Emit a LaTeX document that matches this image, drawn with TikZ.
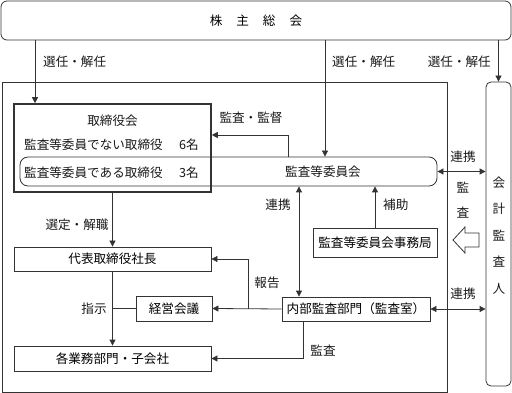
\documentclass[tikz,border=0pt]{standalone}
\usepackage{fontspec}
\setmainfont{Noto Sans CJK JP}
\usetikzlibrary{arrows.meta}
\begin{document}
\begin{tikzpicture}[x=1pt,y=-1pt,
  font=\fontsize{12.6}{14}\selectfont,
  ln/.style={draw=black!80, line width=0.8pt},
  arr/.style={ln, -{Triangle[length=6pt,width=6pt]}},
  darr/.style={ln, {Triangle[length=6pt,width=6pt]}-{Triangle[length=6pt,width=6pt]}},
  box/.style={draw=black!80, line width=0.8pt, inner sep=0pt},
  lbl/.style={inner sep=0pt, text=black!90},
]
\useasboundingbox (0,0) rectangle (512,393);
% outer company frame
\draw[ln] (2,82) rectangle (447,392);
% shareholders meeting
\node[box, rounded corners=6pt, minimum width=510pt, minimum height=39pt] (gms) at (256,20.5) {株\hspace{14pt}主\hspace{14pt}総\hspace{14pt}会};
% accounting auditor
\node[box, rounded corners=5pt, minimum width=25pt, minimum height=304pt] (aud) at (498.5,234) {};
\node[lbl, align=center, font=\fontsize{12.6}{26.5}\selectfont] (audt) at (499,235.5) {会\\計\\監\\査\\人};
% board
\node[box, line width=1.6pt, minimum width=197pt, minimum height=88pt] (board) at (112.5,148) {};
\node[lbl] (boardt) at (112.5,121) {取締役会};
\node[lbl, anchor=west] (nonac) at (24,145) {監査等委員でない取締役};
\node[lbl, anchor=east] (nonacn) at (199,145) {6名};
\node[lbl, anchor=west] (ac) at (24,173) {監査等委員である取締役};
\node[lbl, anchor=east] (acn) at (199,173) {3名};
% audit committee
\node[box, rounded corners=8pt, minimum width=417pt, minimum height=29pt] (cmte) at (228.5,171.5) {};
\node[lbl] (cmtet) at (323,171.5) {監査等委員会};
% secretariat
\node[box, minimum width=124pt, minimum height=29pt] (sec) at (375,242.5) {監査等委員会事務局};
% internal audit
\node[box, minimum width=148pt, minimum height=24pt] (ia) at (356,309) {内部監査部門（監査室）};
% CEO, management meeting, departments
\node[box, minimum width=197pt, minimum height=24pt] (ceo) at (112.5,259) {代表取締役社長};
\node[box, minimum width=76pt, minimum height=25pt] (mgmt) at (174,308.5) {経営会議};
\node[box, minimum width=197pt, minimum height=25pt] (dept) at (112.5,358.5) {各業務部門・子会社};

% election arrows
\draw[arr] (35,0 |- gms.south) -- (35,0 |- board.north);
\draw[arr] (325,0 |- gms.south) -- (325,0 |- cmte.north);
\draw[arr] (aud.north |- gms.south) -- (aud.north);
\node[lbl, anchor=west] (e1) at (43,62) {選任・解任};
\node[lbl, anchor=west] (e2) at (332,62) {選任・解任};
\node[lbl, anchor=east] (e3) at (491,62) {選任・解任};
% audit & supervise
\draw[arr] (288,0 |- cmte.north) -- (288,135) -- (board.east |- 0,135);
\node[lbl] (ks) at (251,118) {監査・監督};
% cooperation committee - auditor
\draw[darr] (cmte.east) -- (aud.west |- cmte.east);
\node[lbl] (r1) at (463,157) {連携};
\node[lbl, align=center, font=\fontsize{12.6}{25}\selectfont] (kansa) at (463,200.5) {監\\査};
\draw[ln] (453,240) -- (465,227) -- (465,233) -- (479,233) -- (479,247) -- (465,247) -- (465,253) -- cycle;
% assist
\draw[arr] (sec.north) -- (sec.north |- cmte.south);
\node[lbl, anchor=west] (hj) at (383,205) {補助};
% cooperation committee - internal audit
\draw[darr] (299,0 |- cmte.south) -- (299,0 |- ia.north);
\node[lbl] (r2) at (278,205) {連携};
% cooperation internal audit - auditor
\draw[darr] (ia.east) -- (aud.west |- ia.east);
\node[lbl] (r3) at (463,294) {連携};
% report
\coordinate (br) at (248,0 |- ia.west);
\draw[arr] (ia.west) -- (mgmt.east);
\draw[arr] (br) -- (248,0 |- ceo.east) -- (ceo.east);
\node[lbl] (hk) at (267,283) {報告};
% audit of departments
\draw[arr] (303,0 |- ia.south) -- (303,0 |- dept.east) -- (dept.east);
\node[lbl] (ks2) at (323,351) {監査};
% appoint CEO
\draw[arr] (board.south) -- (ceo.north);
\node[lbl] (sk) at (77,225) {選定・解職};
% instruction
\draw[arr] (ceo.south) -- (dept.north);
\draw[ln] (mgmt.west) -- (ceo.south |- mgmt.west);
\node[lbl] (sj) at (94,309) {指示};
\end{tikzpicture}
\end{document}
